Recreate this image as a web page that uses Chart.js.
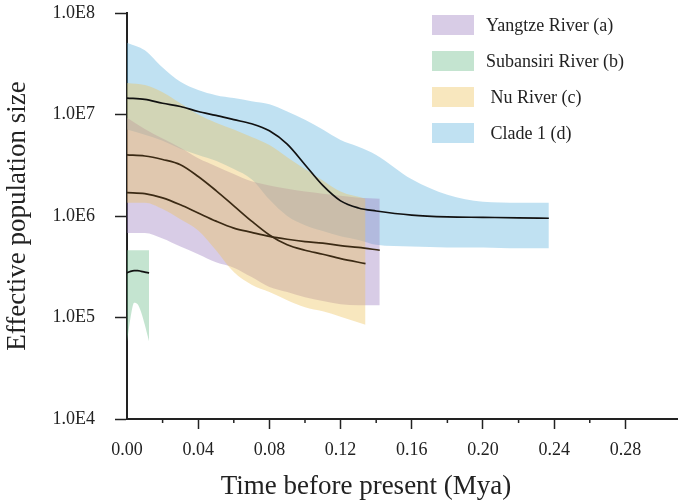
<!DOCTYPE html>
<html>
<head>
<meta charset="utf-8">
<title>Effective population size through time</title>
<script src="https://cdn.jsdelivr.net/npm/chart.js@4.4.1/dist/chart.umd.min.js"></script>
<style>
  html, body { margin: 0; padding: 0; background: #fff; }
  #wrap { position: relative; width: 681px; height: 504px; }
  .legend {
    position: absolute; left: 432px; top: 15px;
    font-family: "Liberation Serif", "Times New Roman", serif;
    font-size: 18px; color: #222;
  }
  .legend-item { display: flex; align-items: center; height: 20px; margin-bottom: 16px; white-space: pre; }
  .swatch { width: 42px; height: 20px; margin-right: 12px; }
</style>
</head>
<body>
<div id="wrap">
  <canvas id="nePlot" width="681" height="504"></canvas>
  <div class="legend" id="legend"></div>
</div>
<script>
/* ── Data ─────────────────────────────────────────────────────────────── */
const xTicks = [0, 0.04, 0.08, 0.12, 0.16, 0.20, 0.24, 0.28];
const xMinorTicks = [0.02, 0.06, 0.10, 0.14, 0.18, 0.22, 0.26];
const yTicks = [1e4, 1e5, 1e6, 1e7, 1e8];

// Yangtze River (a)
const yangtzeTime   = [0, 0.01, 0.02, 0.03, 0.04, 0.05, 0.06, 0.07, 0.08, 0.09, 0.10, 0.11, 0.12, 0.13, 0.142];
const yangtzeUpper  = [9.3e6, 7.2e6, 5.8e6, 4.7e6, 3.7e6, 3.1e6, 2.6e6, 2.2e6, 2.0e6, 1.86e6, 1.74e6, 1.66e6, 1.58e6, 1.51e6, 1.48e6];
const yangtzeMedian = [1.7e6, 1.66e6, 1.51e6, 1.29e6, 1.07e6, 8.9e5, 7.6e5, 6.9e5, 6.3e5, 5.9e5, 5.6e5, 5.4e5, 5.1e5, 4.9e5, 4.6e5];
const yangtzeLower  = [6.8e5, 6.8e5, 6.0e5, 5.0e5, 4.2e5, 3.5e5, 3.1e5, 2.5e5, 2.0e5, 1.78e5, 1.58e5, 1.45e5, 1.35e5, 1.32e5, 1.32e5];

// Subansiri River (b)
const subansiriTime   = [0, 0.002, 0.004, 0.006, 0.008, 0.010, 0.0124];
const subansiriUpper  = [4.6e5, 4.6e5, 4.6e5, 4.6e5, 4.6e5, 4.6e5, 4.6e5];
const subansiriMedian = [2.75e5, 2.85e5, 2.9e5, 2.9e5, 2.85e5, 2.8e5, 2.75e5];
const subansiriLower  = [5.8e4, 1.0e5, 1.4e5, 1.35e5, 1.12e5, 8.5e4, 5.8e4];

// Nu River (c)
const nuTime   = [0, 0.01, 0.02, 0.03, 0.04, 0.05, 0.06, 0.07, 0.08, 0.09, 0.10, 0.11, 0.12, 0.134];
const nuUpper  = [2.04e7, 1.95e7, 1.66e7, 1.29e7, 1.0e7, 8.3e6, 7.1e6, 6.0e6, 5.0e6, 3.8e6, 2.9e6, 2.24e6, 1.74e6, 1.48e6];
const nuMedian = [4.0e6, 3.9e6, 3.6e6, 3.2e6, 2.45e6, 1.78e6, 1.26e6, 8.9e5, 6.5e5, 5.2e5, 4.6e5, 4.2e5, 3.8e5, 3.4e5];
const nuLower  = [1.35e6, 1.35e6, 1.17e6, 9.3e5, 7.2e5, 4.6e5, 2.8e5, 2.1e5, 1.78e5, 1.48e5, 1.26e5, 1.15e5, 1.02e5, 8.5e4];

// Clade 1 (d)
const cladeTime   = [0, 0.01, 0.02, 0.03, 0.04, 0.05, 0.06, 0.07, 0.08, 0.09, 0.10, 0.11, 0.12, 0.13, 0.14, 0.16, 0.18, 0.20, 0.22, 0.237];
const cladeUpper  = [5.1e7, 4.3e7, 2.9e7, 2.1e7, 1.74e7, 1.55e7, 1.45e7, 1.35e7, 1.26e7, 1.07e7, 8.9e6, 7.1e6, 5.6e6, 4.8e6, 4.0e6, 2.3e6, 1.62e6, 1.38e6, 1.35e6, 1.35e6];
const cladeMedian = [1.45e7, 1.41e7, 1.29e7, 1.2e7, 1.07e7, 9.8e6, 8.9e6, 8.1e6, 6.9e6, 5.1e6, 3.2e6, 2.0e6, 1.41e6, 1.2e6, 1.12e6, 1.02e6, 9.8e5, 9.7e5, 9.6e5, 9.5e5];
const cladeLower  = [7.1e6, 6.3e6, 5.5e6, 4.6e6, 4.0e6, 3.5e6, 2.9e6, 2.3e6, 1.45e6, 1.0e6, 8.1e5, 7.1e5, 6.3e5, 5.8e5, 5.2e5, 5.0e5, 4.9e5, 4.9e5, 4.8e5, 4.8e5];

// swatch = colour seen over white; fill = translucent ink used for the bands
// stack: higher number sits lower in the drawing order
const groups = [
    { label: 'Yangtze River (a)',   swatch: '#d8cce6', fill: 'rgba(158,128,193,0.4)', stack: 3, line: '#3b2a14', time: yangtzeTime,   upper: yangtzeUpper,   median: yangtzeMedian,   lower: yangtzeLower },
    { label: 'Subansiri River (b)', swatch: '#c4e4d0', fill: 'rgba(108,188,138,0.4)', stack: 2, line: '#111111', time: subansiriTime, upper: subansiriUpper, median: subansiriMedian, lower: subansiriLower },
    { label: ' Nu River (c)',       swatch: '#f8e7be', fill: 'rgba(238,195,93,0.4)',  stack: 1, line: '#3b2a14', time: nuTime,        upper: nuUpper,        median: nuMedian,        lower: nuLower },
    { label: ' Clade 1 (d)',        swatch: '#c0e1f2', fill: 'rgba(98,180,223,0.4)',  stack: 4, line: '#111111', time: cladeTime,     upper: cladeUpper,     median: cladeMedian,     lower: cladeLower },
];

/* ── Build datasets ───────────────────────────────────────────────────── */
function pts(time, vals) {
    return time.map((t, i) => ({ x: t, y: vals[i] }));
}

const datasets = [];
groups.forEach(g => {
    datasets.push({
        label: g.label + ' upper',
        data: pts(g.time, g.upper),
        backgroundColor: g.fill,
        borderWidth: 0,
        pointRadius: 0,
        fill: '+1',
        order: g.stack,
        cubicInterpolationMode: 'monotone',
    });
    datasets.push({
        label: g.label + ' lower',
        data: pts(g.time, g.lower),
        borderWidth: 0,
        pointRadius: 0,
        fill: false,
        order: g.stack,
        cubicInterpolationMode: 'monotone',
    });
});
groups.forEach(g => {
    datasets.push({
        label: g.label + ' median',
        data: pts(g.time, g.median),
        borderColor: g.line,
        borderWidth: 1.7,
        pointRadius: 0,
        fill: false,
        order: 0,
        cubicInterpolationMode: 'monotone',
    });
});

/* ── Plugins ──────────────────────────────────────────────────────────── */
const extras = {
    id: 'extras',
    beforeDraw(chart) {
        const ctx = chart.ctx;
        ctx.save();
        ctx.fillStyle = '#fff';
        ctx.fillRect(0, 0, chart.width, chart.height);
        ctx.restore();
    },
    afterDraw(chart) {
        const { ctx, scales: { x } } = chart;
        ctx.save();
        // short minor ticks between the labelled ones
        ctx.strokeStyle = '#222';
        ctx.lineWidth = 1.5;
        xMinorTicks.forEach(v => {
            const px = x.getPixelForValue(v);
            ctx.beginPath();
            ctx.moveTo(px, x.top);
            ctx.lineTo(px, x.top + 4);
            ctx.stroke();
        });
        // x axis title sits left of centre in the original
        ctx.fillStyle = '#222';
        ctx.font = '27px "Liberation Serif", serif';
        ctx.textAlign = 'center';
        ctx.textBaseline = 'middle';
        ctx.fillText('Time before present (Mya)', chart.chartArea.left + 239, 487);
        ctx.restore();
    }
};

const serif = '"Liberation Serif", "Times New Roman", serif';

new Chart(document.getElementById('nePlot'), {
    type: 'line',
    data: { datasets },
    options: {
        responsive: false,
        animation: false,
        devicePixelRatio: 1,
        layout: { padding: { top: 13, right: 4, bottom: 0, left: 0 } },
        plugins: {
            legend: { display: false },
            tooltip: { enabled: false },
        },
        scales: {
            x: {
                type: 'linear',
                min: 0,
                max: 0.309,
                afterBuildTicks: s => { s.ticks = xTicks.map(v => ({ value: v })); },
                afterFit: s => { s.height = 85; s.paddingLeft = 0; s.paddingRight = 0; },
                grid: {
                    drawOnChartArea: false,
                    tickLength: 10,
                    tickWidth: 1.5,
                    tickColor: c => (c.tick && c.tick.value === 0 ? 'rgba(0,0,0,0)' : '#222'),
                },
                border: { color: '#222', width: 2 },
                ticks: {
                    color: '#222',
                    padding: 10,
                    maxRotation: 0,
                    font: { family: serif, size: 18 },
                    callback: v => Number(v).toFixed(2),
                },
            },
            y: {
                type: 'logarithmic',
                min: 1e4,
                max: 1e8,
                afterBuildTicks: s => { s.ticks = yTicks.map(v => ({ value: v })); },
                afterFit: s => { s.width = 127; s.paddingTop = 0; s.paddingBottom = 0; },
                grid: {
                    drawOnChartArea: false,
                    tickLength: 12,
                    tickWidth: 1.5,
                    tickColor: '#222',
                },
                border: { color: '#222', width: 2 },
                ticks: {
                    color: '#222',
                    padding: 20,
                    font: { family: serif, size: 18 },
                    callback: v => '1.0E' + Math.round(Math.log10(v)),
                },
                title: {
                    display: true,
                    text: 'Effective population size',
                    color: '#222',
                    font: { family: serif, size: 27 },
                    padding: { top: 2, bottom: 0 },
                },
            },
        },
    },
    plugins: [extras],
});

/* ── HTML legend ──────────────────────────────────────────────────────── */
const legendEl = document.getElementById('legend');
groups.forEach(g => {
    const item = document.createElement('div');
    item.className = 'legend-item';
    const sw = document.createElement('span');
    sw.className = 'swatch';
    sw.style.background = g.swatch;
    const txt = document.createElement('span');
    txt.textContent = g.label;
    item.appendChild(sw);
    item.appendChild(txt);
    legendEl.appendChild(item);
});
</script>
</body>
</html>
